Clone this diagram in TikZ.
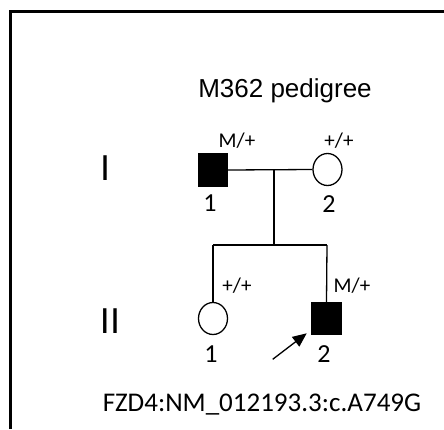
\documentclass[tikz,border=0pt]{standalone}
\usepackage{fontspec}
\setmainfont{Carlito}
\newfontfamily\arialf{Liberation Sans}
\usetikzlibrary{shapes.geometric,arrows.meta}
\begin{document}
\begin{tikzpicture}[x=1pt,y=-1pt,
  conn/.style={line width=1.3pt},
  affm/.style={draw,fill=black,rectangle,minimum width=29pt,minimum height=32pt,inner sep=0pt,line width=1.3pt},
  unf/.style={draw,fill=white,ellipse,minimum width=29pt,minimum height=32pt,inner sep=0pt,line width=1.3pt},
  geno/.style={font=\fontsize{21}{24}\selectfont,anchor=base,inner sep=0pt},
  num/.style={font=\fontsize{26}{30}\selectfont,anchor=base,inner sep=0pt},
  gen/.style={font=\arialf\fontsize{36}{40}\selectfont,anchor=base,inner sep=0pt}]
\useasboundingbox (0,0) rectangle (444,429);
\draw[line width=3pt] (10.5,429) -- (10.5,11.5) -- (444,11.5);
\node[font=\arialf\fontsize{26}{30}\selectfont,anchor=base,inner sep=0pt] (title) at (285,97) {M362 pedigree};
\node[gen] (g1) at (105,180) {I};
\node[gen] (g2) at (110,333) {II};
\node[affm] (i1) at (213,170) {};
\node[unf] (i2) at (327.5,169.5) {};
\node[unf] (ii1) at (213,318.5) {};
\node[affm] (ii2) at (326.5,318.5) {};
\coordinate (m) at (274,169.5);
\coordinate (d) at (274,245);
\coordinate (s1) at (213,245);
\coordinate (s2) at (327,245);
\draw[conn] (i1.east) -- (i2.west);
\draw[conn] (m) -- (d);
\draw[conn] (s1) -- (s2);
\draw[conn] (s1) -- (ii1.north);
\draw[conn] (s2) -- (ii2.north);
\node[geno] (l1) at (237,147) {M/+};
\node[geno] (l2) at (339,147) {+/+};
\node[geno] (l3) at (237,292) {+/+};
\node[geno] (l4) at (352,292) {M/+};
\node[num] (n1) at (210,211) {1};
\node[num] (n2) at (329,212) {2};
\node[num] (n3) at (211,362) {1};
\node[num] (n4) at (324,362) {2};
\coordinate (arrtail) at (272.7,359.3);
\coordinate (arrtip) at (306.7,333.3);
\draw[line width=1.3pt,-{Triangle[length=14pt,width=12pt]}] (arrtail) -- (arrtip);
\node[font=\fontsize{27}{32}\selectfont,anchor=base,inner sep=0pt] (gene) at (262,411) {FZD4:NM\_012193.3:c.A749G};
\end{tikzpicture}
\end{document}
